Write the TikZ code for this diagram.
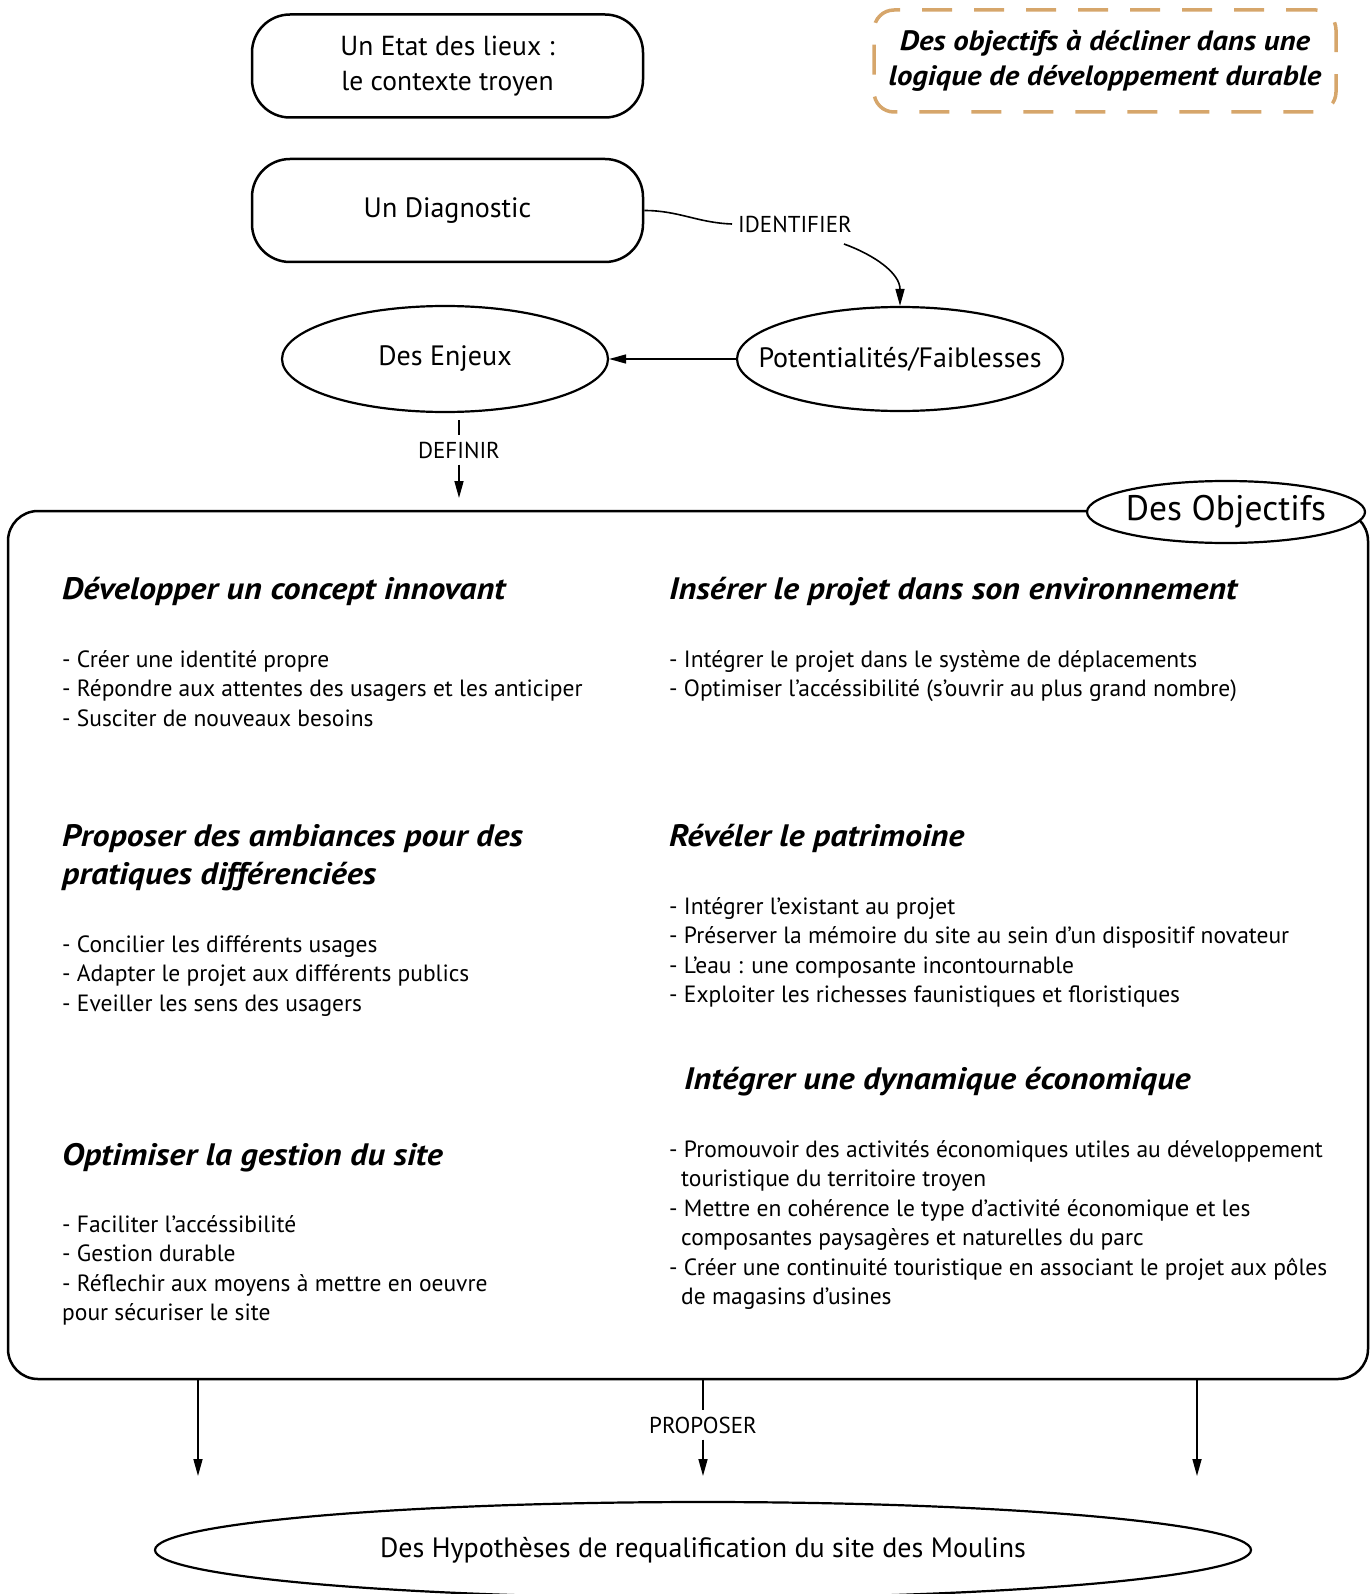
\documentclass[tikz,border=0pt]{standalone}
\usepackage{fontspec}
\setmainfont{PT Sans}
\newfontfamily\headfont[FakeStretch=1.1]{PT Sans}
\usetikzlibrary{arrows.meta,shapes.geometric}
\definecolor{dashtan}{RGB}{214,166,107}
\begin{document}
\begin{tikzpicture}[x=1pt,y=-1pt,
 box/.style={draw, line width=2.5pt, rounded corners=38pt, minimum width=391pt, minimum height=103pt, inner sep=0pt, align=center, font=\fontsize{27.5}{35}\selectfont},
 ell/.style={draw, ellipse, line width=2.2pt, inner xsep=-30pt, inner ysep=0pt, font=\fontsize{28}{32}\selectfont},
 lab/.style={font=\fontsize{23}{26}\selectfont, inner sep=0pt},
 arr/.style={line width=1.6pt, -{Triangle[length=17pt,width=9pt]}},
 conn/.style={line width=1.6pt},
 body/.style={font=\fontsize{23.5}{29}\selectfont, inner sep=0pt, anchor=base west},
 head/.style={font=\fontsize{31}{38}\selectfont\headfont\bfseries\itshape, inner sep=0pt, anchor=base west},
]
\useasboundingbox (0,0) rectangle (1369,1594);

% top boxes
\node[box] (etat) at (447.5,66) {Un Etat des lieux :\\le contexte troyen};
\node[box, font=\fontsize{28}{35}\selectfont] (diag) at (447.5,210.5) {Un Diagnostic};

% dashed note
\node[draw=dashtan, line width=3.5pt, dash pattern=on 30pt off 22pt, rounded corners=20pt,
      minimum width=462pt, minimum height=102pt, inner sep=0pt, align=center,
      font=\fontsize{28}{35}\selectfont\headfont\bfseries\itshape] (note) at (1105,61)
      {Des objectifs à décliner dans une\\logique de développement durable};

% ellipses
\node[ell, minimum width=326pt, minimum height=106pt] (enj) at (445,359) {Des Enjeux};
\node[ell, minimum width=326pt, minimum height=104pt] (pot) at (900,359) {Potentialités/Faiblesses};

% IDENTIFIER
\node[lab] (ident) at (795,224) {IDENTIFIER};
\draw[conn] (diag.east) to[out=0,in=178] ([xshift=-6pt]ident.west);
\draw[arr] (844,244) to[out=-20,in=90] (pot.north);
\draw[arr] (pot.west) -- (enj.east);

% DEFINIR
\node[lab] (defin) at (459,450) {DEFINIR};
\coordinate (d0) at (459,420);
\coordinate (d1) at (459,498);
\draw[conn] (d0) -- ([yshift=6pt]defin.north);
\draw[arr] ([yshift=-6pt]defin.south) -- (d1);

% big box
\node[draw, line width=2.5pt, rounded corners=30pt, minimum width=1360pt, minimum height=868pt, inner sep=0pt] (obj) at (688,945) {};
\node[ell, fill=white, minimum width=278pt, minimum height=62pt, font=\fontsize{35.5}{40}\selectfont] (objl) at (1226,512) {Des Objectifs};

% headings
\node[head] (h1) at (62,599) {Développer un concept innovant};
\node[head] (h2) at (669,599) {Insérer le projet dans son environnement};
\node[head] (h3a) at (62,846) {Proposer des ambiances pour des};
\node[head] (h3b) at (62,884) {pratiques différenciées};
\node[head] (h4) at (669,846) {Révéler le patrimoine};
\node[head] (h5) at (684,1089) {Intégrer une dynamique économique};
\node[head] (h6) at (62,1165) {Optimiser la gestion du site};

% items
\foreach \t [count=\i] in {{- Créer une identité propre},{- Répondre aux attentes des usagers et les anticiper},{- Susciter de nouveaux besoins}}
  \node[body] (b1-\i) at (62,{667+29.5*(\i-1)}) {\t};
\foreach \t [count=\i] in {{- Intégrer le projet dans le système de déplacements},{- Optimiser l'accéssibilité (s'ouvrir au plus grand nombre)}}
  \node[body] (b2-\i) at (669,{667+29.5*(\i-1)}) {\t};
\foreach \t [count=\i] in {{- Concilier les différents usages},{- Adapter le projet aux différents publics},{- Eveiller les sens des usagers}}
  \node[body] (b3-\i) at (62,{952+29.5*(\i-1)}) {\t};
\foreach \t [count=\i] in {{- Intégrer l'existant au projet},{- Préserver la mémoire du site au sein d'un dispositif novateur},{- L'eau : une composante incontournable},{- Exploiter les richesses faunistiques et floristiques}}
  \node[body] (b4-\i) at (669,{914+29.5*(\i-1)}) {\t};
\foreach \t [count=\i] in {{- Promouvoir des activités économiques utiles au développement},{\hspace*{12pt}touristique du territoire troyen},{- Mettre en cohérence le type d'activité économique et les},{\hspace*{12pt}composantes paysagères et naturelles du parc},{- Créer une continuité touristique en associant le projet aux pôles},{\hspace*{12pt}de magasins d'usines}}
  \node[body] (b5-\i) at (669,{1157+29.5*(\i-1)}) {\t};
\foreach \t [count=\i] in {{- Faciliter l'accéssibilité},{- Gestion durable},{- Réflechir aux moyens à mettre en oeuvre},{pour sécuriser le site}}
  \node[body] (b6-\i) at (62,{1232+29.5*(\i-1)}) {\t};

% bottom
\node[ell, minimum width=1096pt, minimum height=96pt] (hyp) at (703,1550) {Des Hypothèses de requalification du site des Moulins};
\coordinate (a1) at (198,1476);
\coordinate (a3) at (1197,1476);
\coordinate (a2) at (703,1476);
\node[lab] (prop) at (703,1425) {PROPOSER};
\draw[arr] (obj.south -| a1) -- (a1);
\draw[arr] (obj.south -| a3) -- (a3);
\draw[conn] (obj.south -| a2) -- ([yshift=6pt]prop.north);
\draw[arr] ([yshift=-6pt]prop.south) -- (a2);
\end{tikzpicture}
\end{document}
